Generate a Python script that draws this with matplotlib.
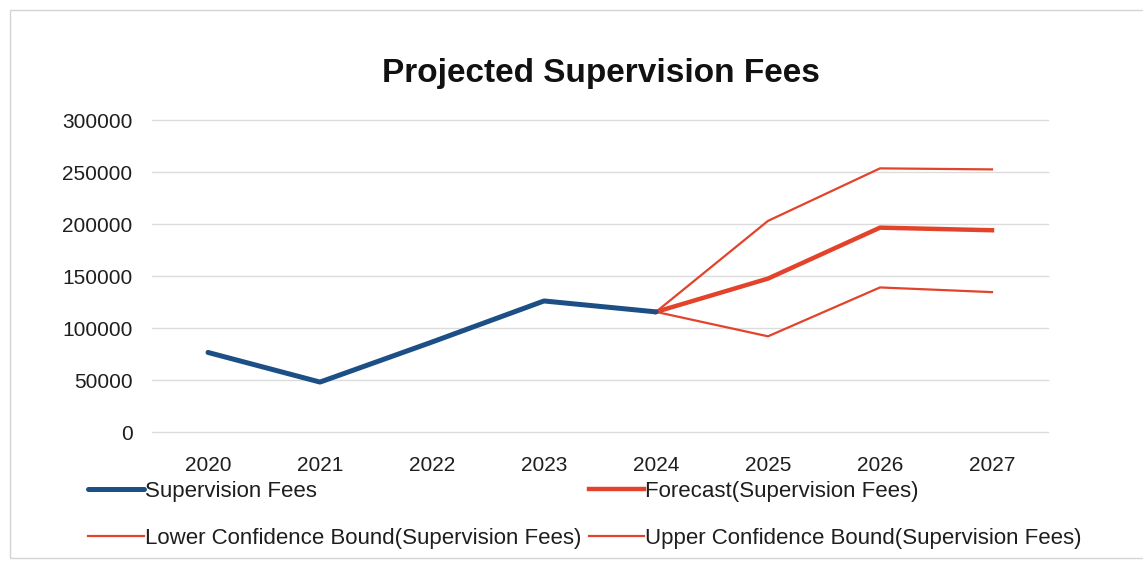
import matplotlib
matplotlib.use("Agg")
import matplotlib.pyplot as plt
from matplotlib.patches import Rectangle

plt.rcParams['font.family'] = ['Liberation Sans', 'DejaVu Sans']

years = ["2020", "2021", "2022", "2023", "2024", "2025", "2026", "2027"]
fees = [76500, 48000, 86500, 126000, 115500]
forecast = [115500, 147500, 196500, 194000]
lower_bound = [115500, 92000, 139000, 134500]
upper_bound = [115500, 203000, 253500, 252500]
y_ticks = [0, 50000, 100000, 150000, 200000, 250000, 300000]

blue = "#1C4F86"
red = "#E2432A"
text_color = "#1E1E1E"

fig = plt.figure(figsize=(11.43, 5.65), dpi=100)
fig.patch.set_facecolor("white")

# faint chart-area border
fig.patches.append(Rectangle((10 / 1143, 7 / 565), 1.2, 548 / 565,
                             transform=fig.transFigure, fill=False,
                             edgecolor="#D4D4D4", linewidth=1.0))

ax = fig.add_axes([152 / 1143, 1 - 432 / 565, (1048 - 152) / 1143, (432 - 120) / 565])

x_hist = list(range(len(fees)))
x_fc = list(range(len(fees) - 1, len(years)))

l_fees, = ax.plot(x_hist, fees, color=blue, linewidth=3.6, solid_capstyle="round",
                  solid_joinstyle="round", label="Supervision Fees", zorder=4)
l_lower, = ax.plot(x_fc, lower_bound, color=red, linewidth=1.6,
                   label="Lower Confidence Bound(Supervision Fees)", zorder=3)
l_fc, = ax.plot(x_fc, forecast, color=red, linewidth=3.2, solid_joinstyle="round",
                label="Forecast(Supervision Fees)", zorder=3)
l_upper, = ax.plot(x_fc, upper_bound, color=red, linewidth=1.6,
                   label="Upper Confidence Bound(Supervision Fees)", zorder=3)

ax.set_xlim(-0.5, len(years) - 0.5)
ax.set_ylim(0, 300000)
ax.set_xticks(range(len(years)))
ax.set_xticklabels(years)
ax.set_yticks(y_ticks)
ax.set_yticklabels([str(v) for v in y_ticks])
ax.tick_params(axis="both", length=0, labelsize=15, colors=text_color)
ax.tick_params(axis="x", pad=17)
ax.tick_params(axis="y", pad=14)
ax.yaxis.grid(True, color="#DCDCDC", linewidth=1.0)
for gl in ax.get_ygridlines():
    gl.set_clip_on(False)
ax.set_axisbelow(True)
for s in ax.spines.values():
    s.set_visible(False)

fig.text(601 / 1143, 1 - 73 / 565, "Projected Supervision Fees", ha="center", va="center",
         fontsize=24, fontweight="bold", color="#111111")

handles = [l_fees, l_lower, l_fc, l_upper]
leg = fig.legend(handles=handles, labels=[h.get_label() for h in handles],
                 ncol=2, loc="upper left", bbox_to_anchor=(88 / 1143, 1 - 481 / 565),
                 frameon=False, fontsize=16, handlelength=2.5, handletextpad=0.05,
                 columnspacing=0.35, labelspacing=1.15, borderpad=0, borderaxespad=0)
for t in leg.get_texts():
    t.set_color(text_color)

fig.savefig("out.png", dpi=100, facecolor="white")
